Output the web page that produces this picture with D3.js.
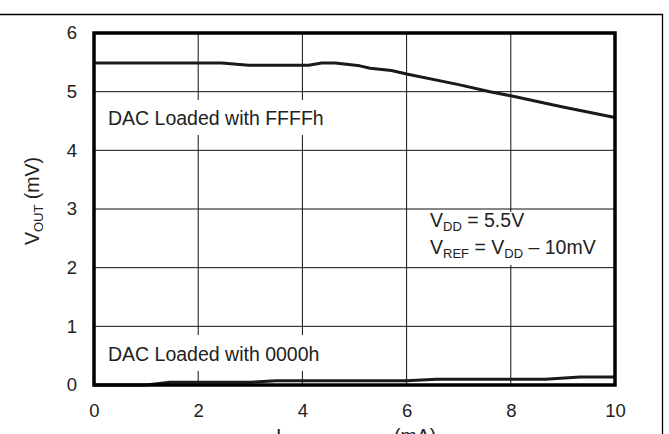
<!DOCTYPE html>
<html>
<head>
<meta charset="utf-8">
<script src="https://cdn.jsdelivr.net/npm/d3@7"></script>
<style>
  body { margin: 0; background: #fff; }
  svg { display: block; font-family: "Liberation Sans", Arial, sans-serif; }
</style>
</head>
<body>
<svg class="chart"></svg>
<script>
// output voltage vs load current, two DAC codes
let width = 669, height = 434;

let xTicks = [0, 2, 4, 6, 8, 10];
let yTicks = [0, 1, 2, 3, 4, 5, 6];

// DAC loaded with FFFFh (current in mA, V_OUT)
let fullX = [0, 1, 2, 2.45, 2.97, 3.5, 4.12, 4.37, 4.63, 5.1, 5.3, 5.71, 6, 7, 7.6, 8, 8.62, 9, 10];
let fullY = [5.49, 5.49, 5.49, 5.49, 5.45, 5.45, 5.45, 5.49, 5.49, 5.44, 5.40, 5.36, 5.30, 5.12, 5.0, 4.93, 4.81, 4.74, 4.56];

// DAC loaded with 0000h
let zeroX = [0, 1, 1.46, 3.0, 3.5, 6.0, 6.58, 8.66, 9.33, 10];
let zeroY = [0, 0, 0.046, 0.046, 0.073, 0.073, 0.10, 0.10, 0.136, 0.136];

let x = d3.scaleLinear().domain([0, 10]).range([94, 615]);
let y = d3.scaleLinear().domain([0, 6]).range([385, 33]);

let svg = d3.select(".chart")
  .attr("width", width)
  .attr("height", height);

svg.append("rect")
  .attr("width", width)
  .attr("height", height)
  .attr("fill", "#fff");

// page frame (top and right rule)
svg.append("path")
  .attr("d", "M0,14.5H662.5V" + height)
  .attr("fill", "none")
  .attr("stroke", "#000")
  .attr("stroke-width", 1.3);

// grid
svg.append("g").selectAll("line")
  .data([2, 4, 6, 8])
  .enter().append("line")
  .attr("x1", d => x(d)).attr("x2", d => x(d))
  .attr("y1", y(6)).attr("y2", y(0))
  .attr("stroke", "#111").attr("stroke-width", 1);

svg.append("g").selectAll("line")
  .data([1, 2, 3, 4, 5])
  .enter().append("line")
  .attr("x1", x(0)).attr("x2", x(10))
  .attr("y1", d => y(d)).attr("y2", d => y(d))
  .attr("stroke", "#111").attr("stroke-width", 1);

// white boxes behind annotations (they cut the grid)
function whiteBox(x0, y0, w, h) {
  svg.append("rect")
    .attr("x", x0).attr("y", y0)
    .attr("width", w).attr("height", h)
    .attr("fill", "#fff");
}
whiteBox(100, 100, 240, 35);
whiteBox(100, 335, 240, 36);
whiteBox(424, 212, 180, 53);

// annotations
svg.append("text")
  .attr("x", 108).attr("y", 125)
  .attr("font-size", 19.5).attr("fill", "#222")
  .text("DAC Loaded with FFFFh");

svg.append("text")
  .attr("x", 108).attr("y", 361)
  .attr("font-size", 19.5).attr("fill", "#222")
  .text("DAC Loaded with 0000h");

let vdd = svg.append("text")
  .attr("x", 430).attr("y", 227)
  .attr("font-size", 19.5).attr("fill", "#222");
vdd.append("tspan").text("V");
vdd.append("tspan").attr("font-size", 13).attr("dy", 4).text("DD");
vdd.append("tspan").attr("dy", -4).text(" = 5.5V");

let vref = svg.append("text")
  .attr("x", 430).attr("y", 254)
  .attr("font-size", 19.5).attr("fill", "#222");
vref.append("tspan").text("V");
vref.append("tspan").attr("font-size", 13).attr("dy", 4).text("REF");
vref.append("tspan").attr("dy", -4).text(" = V");
vref.append("tspan").attr("font-size", 13).attr("dy", 4).text("DD");
vref.append("tspan").attr("dy", -4).text(" \u2013 10mV");

// data lines
let line = d3.line()
  .x(d => x(d[0]))
  .y(d => y(d[1]));

svg.append("path")
  .datum(d3.zip(fullX, fullY))
  .attr("d", line)
  .attr("fill", "none")
  .attr("stroke", "#1a1a1a")
  .attr("stroke-width", 3)
  .attr("stroke-linejoin", "round");

svg.append("path")
  .datum(d3.zip(zeroX, zeroY))
  .attr("d", line)
  .attr("fill", "none")
  .attr("stroke", "#1a1a1a")
  .attr("stroke-width", 3)
  .attr("stroke-linejoin", "round");

// plot border
svg.append("rect")
  .attr("x", x(0)).attr("y", y(6))
  .attr("width", x(10) - x(0))
  .attr("height", y(0) - y(6))
  .attr("fill", "none")
  .attr("stroke", "#000")
  .attr("stroke-width", 3.5);

// axes (labels only)
let xAxis = svg.append("g")
  .attr("transform", "translate(0," + y(0) + ")")
  .call(d3.axisBottom(x).tickValues(xTicks).tickFormat(d3.format("d")).tickSize(0).tickPadding(19));
let yAxis = svg.append("g")
  .attr("transform", "translate(" + x(0) + ",0)")
  .call(d3.axisLeft(y).tickValues(yTicks).tickFormat(d3.format("d")).tickSize(0).tickPadding(17));

[xAxis, yAxis].forEach(g => {
  g.select(".domain").remove();
  g.selectAll("text")
    .attr("font-size", 18.5)
    .attr("font-family", "Liberation Sans, Arial, sans-serif")
    .attr("fill", "#222");
});

// axis titles
let yTitle = svg.append("text")
  .attr("transform", "translate(39,201) rotate(-90)")
  .attr("text-anchor", "middle")
  .attr("font-size", 19.5).attr("fill", "#222");
yTitle.append("tspan").text("V");
yTitle.append("tspan").attr("font-size", 13).attr("dy", 4).text("OUT");
yTitle.append("tspan").attr("dy", -4).text(" (mV)");

// x title: the reference crops it at the bottom edge, only its top shows
let xTitle = svg.append("text")
  .attr("y", 443)
  .attr("font-size", 19.5).attr("fill", "#222");
xTitle.append("tspan").attr("x", 276).text("I");
xTitle.append("tspan").attr("font-size", 13).attr("dy", 4).text("(SOURCE/SINK)");
xTitle.append("tspan").attr("x", 394).attr("dy", -4).text("(mA)");
</script>
</body>
</html>
